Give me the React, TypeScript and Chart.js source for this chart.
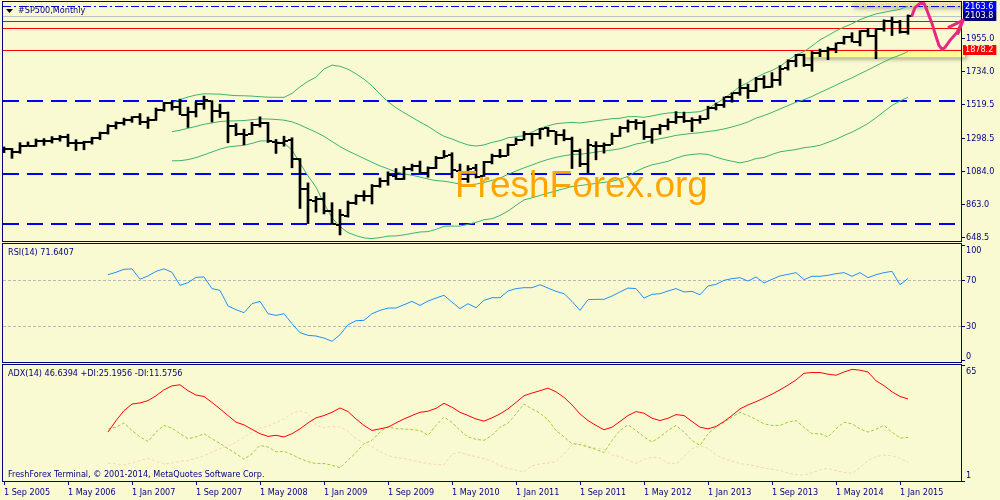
import React, { useEffect, useRef } from 'react';
import { Chart, registerables } from 'chart.js';

Chart.register(...registerables);

const FONT = '"DejaVu Sans Condensed", "Liberation Sans", Arial, sans-serif';
const WM_FONT = '"Liberation Sans", Arial, sans-serif';
const NAVY = '#000080';
const BG = '#FAFAD2';
const LABEL_FONT = `9px ${FONT}`;

// ---------- time axis ----------
const X_MIN = -0.125;
const X_MAX = 119.625;
const X_TICK_POS = [0, 8, 16, 24, 32, 40, 48, 56, 64, 72, 80, 88, 96, 104, 112];
const X_TICK_LABELS = ['1 Sep 2005', '1 May 2006', '1 Jan 2007', '1 Sep 2007', '1 May 2008', '1 Jan 2009', '1 Sep 2009', '1 May 2010', '1 Jan 2011', '1 Sep 2011', '1 May 2012', '1 Jan 2013', '1 Sep 2013', '1 May 2014', '1 Jan 2015'];

// ---------- monthly OHLC, Sep 2005 .. Feb 2015 ----------
const OPEN = [1220.3, 1228.8, 1207.0, 1249.5, 1248.3, 1280.1, 1280.7, 1294.9, 1310.6, 1270.1, 1270.2, 1276.7, 1303.8, 1335.9, 1377.9, 1400.6, 1418.3, 1437.9, 1406.8, 1420.8, 1482.4, 1530.6, 1504.7, 1455.2, 1473.9, 1527.3, 1545.8, 1479.6, 1468.0, 1378.6, 1330.5, 1326.4, 1386.0, 1399.6, 1276.7, 1269.4, 1287.8, 1164.2, 968.7, 888.6, 903.0, 823.1, 729.6, 793.6, 872.7, 923.3, 920.8, 990.2, 1019.5, 1054.9, 1036.2, 1098.9, 1116.6, 1073.9, 1105.4, 1171.2, 1188.6, 1087.3, 1031.1, 1107.5, 1049.7, 1143.5, 1185.7, 1186.6, 1257.6, 1289.1, 1328.6, 1329.5, 1365.2, 1345.2, 1320.6, 1292.6, 1219.1, 1131.2, 1251.0, 1246.9, 1258.9, 1312.5, 1365.9, 1408.5, 1397.9, 1309.9, 1362.3, 1379.3, 1406.5, 1440.9, 1412.2, 1416.3, 1426.2, 1498.1, 1514.7, 1569.2, 1597.6, 1631.7, 1609.8, 1689.4, 1636.0, 1682.4, 1758.7, 1806.6, 1845.9, 1782.7, 1857.7, 1874.0, 1884.4, 1923.9, 1962.3, 1929.8, 2004.1, 1971.4, 2018.2, 2065.8, 2058.9, 1996.7];
const HIGH = [1243.1, 1233.3, 1270.6, 1275.8, 1294.9, 1297.6, 1310.9, 1318.2, 1326.7, 1290.7, 1280.4, 1306.7, 1340.3, 1389.4, 1407.9, 1431.8, 1441.6, 1461.6, 1438.9, 1498.0, 1535.6, 1540.6, 1555.9, 1503.9, 1538.7, 1576.1, 1545.8, 1523.6, 1471.8, 1396.0, 1359.7, 1404.4, 1440.2, 1404.1, 1292.2, 1313.2, 1303.0, 1167.0, 1007.5, 918.9, 943.9, 877.9, 833.0, 888.7, 930.2, 956.2, 996.7, 1039.5, 1080.2, 1101.4, 1113.7, 1130.4, 1150.5, 1112.4, 1180.7, 1219.8, 1205.1, 1131.2, 1121.0, 1129.2, 1148.7, 1196.1, 1227.1, 1262.6, 1302.7, 1344.1, 1332.3, 1364.6, 1370.6, 1345.2, 1356.5, 1307.4, 1229.3, 1292.7, 1277.6, 1269.4, 1333.5, 1378.0, 1419.2, 1422.4, 1415.3, 1363.5, 1391.7, 1426.7, 1474.5, 1471.0, 1434.3, 1448.0, 1509.9, 1530.9, 1570.3, 1597.6, 1687.2, 1654.2, 1698.8, 1709.7, 1729.9, 1775.2, 1813.6, 1849.4, 1850.8, 1867.9, 1884.0, 1897.3, 1924.0, 1968.2, 1991.4, 2005.0, 2019.3, 2018.2, 2075.8, 2093.6, 2072.4, 2107.8];
const LOW = [1205.4, 1168.2, 1201.1, 1246.6, 1245.7, 1253.6, 1268.4, 1280.7, 1245.3, 1219.3, 1224.5, 1261.3, 1290.9, 1327.1, 1360.9, 1385.9, 1403.9, 1389.4, 1364.0, 1416.4, 1476.7, 1484.2, 1454.3, 1370.6, 1439.3, 1489.6, 1406.1, 1435.7, 1270.1, 1316.8, 1257.0, 1324.4, 1373.1, 1272.0, 1200.4, 1247.5, 1106.4, 839.8, 741.0, 815.7, 804.2, 735.1, 666.8, 783.3, 866.1, 888.9, 869.3, 978.5, 992.0, 1029.4, 1029.4, 1085.9, 1071.6, 1044.5, 1101.0, 1170.7, 1040.8, 1028.3, 1010.9, 1039.7, 1049.7, 1131.9, 1173.0, 1186.6, 1257.6, 1289.1, 1249.1, 1294.7, 1311.8, 1258.1, 1282.9, 1101.5, 1114.2, 1074.8, 1158.7, 1202.4, 1258.9, 1311.5, 1340.0, 1357.4, 1292.0, 1266.7, 1325.4, 1354.7, 1396.6, 1403.3, 1343.4, 1398.1, 1426.2, 1485.0, 1501.5, 1536.0, 1581.3, 1560.3, 1604.6, 1627.5, 1633.4, 1646.5, 1746.2, 1768.0, 1770.5, 1737.9, 1834.4, 1814.4, 1859.8, 1916.0, 1930.7, 1904.8, 1964.0, 1820.7, 2001.0, 1972.6, 1988.1, 1980.9];
const CLOSE = [1228.8, 1207.0, 1249.5, 1248.3, 1280.1, 1280.7, 1294.9, 1310.6, 1270.1, 1270.2, 1276.7, 1303.8, 1335.9, 1377.9, 1400.6, 1418.3, 1438.2, 1406.8, 1420.9, 1482.4, 1530.6, 1503.4, 1455.3, 1474.0, 1526.8, 1549.4, 1481.1, 1468.4, 1378.6, 1330.6, 1322.7, 1385.6, 1400.4, 1280.0, 1267.4, 1282.8, 1166.4, 968.8, 896.2, 903.3, 825.9, 735.1, 797.9, 872.8, 919.1, 919.3, 987.5, 1020.6, 1057.1, 1036.2, 1095.6, 1115.1, 1073.9, 1104.5, 1169.4, 1186.7, 1089.4, 1030.7, 1101.6, 1049.3, 1141.2, 1183.3, 1180.6, 1257.6, 1286.1, 1327.2, 1325.8, 1363.6, 1345.2, 1320.6, 1292.3, 1218.9, 1131.4, 1253.3, 1247.0, 1257.6, 1312.4, 1365.7, 1408.5, 1397.9, 1310.3, 1362.2, 1379.3, 1406.6, 1440.7, 1412.2, 1416.2, 1426.2, 1498.1, 1514.7, 1569.2, 1597.6, 1630.7, 1606.3, 1685.7, 1633.0, 1681.6, 1756.5, 1805.8, 1848.4, 1782.6, 1859.5, 1872.3, 1883.9, 1923.6, 1960.2, 1930.7, 2003.4, 1972.3, 2018.1, 2067.6, 2058.9, 1995.0, 2103.8];

// ---------- Bollinger bands (first value at bar 21) ----------
const BB_START = 21;
const BB_UPPER = [1532, 1553, 1570, 1583, 1591, 1590, 1589, 1583, 1579, 1578, 1576, 1572, 1569, 1568, 1568, 1593, 1637, 1673, 1700, 1753, 1779, 1771, 1752, 1722, 1687, 1643, 1589, 1539, 1500, 1467, 1437, 1406, 1378, 1343, 1313, 1295, 1274, 1256, 1249, 1256, 1273, 1284, 1303, 1310, 1316, 1340, 1365, 1381, 1395, 1400, 1404, 1400, 1407, 1414, 1421, 1428, 1431, 1441, 1442, 1437, 1446, 1457, 1465, 1469, 1466, 1470, 1474, 1494, 1526, 1561, 1599, 1639, 1665, 1697, 1724, 1744, 1771, 1809, 1846, 1868, 1904, 1944, 1973, 2003, 2028, 2050, 2077, 2097, 2114, 2125, 2135, 2144, 2165];
const BB_MID = [1342.5, 1352.8, 1365.0, 1377.6, 1391.3, 1400.4, 1408.9, 1412.7, 1413.6, 1416.0, 1421.3, 1426.9, 1425.8, 1422.7, 1418.4, 1407.7, 1387.3, 1362.7, 1339.8, 1312.7, 1278.8, 1245.5, 1216.8, 1192.4, 1167.2, 1142.7, 1118.7, 1099.4, 1079.7, 1066.9, 1057.1, 1045.8, 1033.0, 1022.5, 1018.3, 1010.2, 998.7, 995.8, 999.4, 1010.6, 1023.3, 1039.4, 1063.2, 1085.3, 1106.0, 1124.5, 1144.7, 1161.0, 1174.6, 1185.3, 1193.6, 1195.2, 1201.5, 1209.4, 1216.3, 1222.8, 1230.9, 1245.5, 1262.1, 1271.6, 1285.9, 1296.7, 1306.8, 1318.6, 1325.7, 1331.6, 1336.1, 1343.9, 1350.8, 1361.0, 1373.6, 1388.9, 1406.6, 1431.7, 1449.0, 1468.8, 1491.4, 1513.9, 1535.8, 1552.8, 1573.8, 1599.3, 1623.0, 1647.8, 1673.0, 1695.2, 1722.1, 1747.4, 1774.3, 1800.2, 1824.9, 1844.3, 1867.3];
const BB_LOWER = [1152, 1153, 1160, 1173, 1191, 1210, 1229, 1243, 1249, 1254, 1266, 1282, 1283, 1278, 1268, 1223, 1137, 1053, 980, 873, 779, 721, 682, 662, 647, 643, 649, 659, 660, 667, 677, 686, 688, 703, 723, 725, 724, 736, 749, 766, 773, 794, 823, 860, 896, 910, 925, 941, 955, 970, 984, 990, 997, 1004, 1011, 1018, 1031, 1051, 1082, 1107, 1126, 1137, 1149, 1169, 1186, 1194, 1198, 1194, 1176, 1161, 1149, 1139, 1149, 1167, 1174, 1194, 1211, 1219, 1226, 1238, 1244, 1254, 1273, 1293, 1318, 1340, 1367, 1397, 1434, 1475, 1515, 1544, 1569];

// ---------- price panel decorations ----------
const PRICE_MIN = 626.9;
const PRICE_MAX = 2192.3;
const PRICE_TICKS = [1955.0, 1734.0, 1519.5, 1298.5, 1084.0, 863.0, 648.5];
const RED_LINES = [2065, 2020, 1878.2];
const BLUE_DASH_LINES = [1547, 1064, 738];
const DASHDOT_LINES = [2163.6];
const BID_LINES = [2103.8];
const MARKER_VALUES = [2163.6, 2103.8, 1878.2];
const MARKER_COLORS = ['#0000FF', '#000070', '#FF0000'];
const RECT_X0 = [106, 99.875];
const RECT_X1 = [120.0, 120.125];
const RECT_TOP = [2187, 1878.2];
const RECT_BOTTOM = [2163.6, 1830];
const RECT_COLORS = ['#ECE394', '#FFFF96'];
const ARROW_X = [113.5, 113.875, 114.5, 115, 115.375, 116, 116.375, 116.875, 117.25, 117.625, 118.25, 119.125, 119.875];
const ARROW_Y = [2104, 2156, 2183, 2183, 2137, 2052, 1987, 1908, 1882, 1895, 1941, 1993, 2072];
const ARROW_HEAD_X = [118.125, 119.25];
const ARROW_HEAD_Y = [2028, 1987];

// ---------- RSI(14) ----------
const RSI_START = 13;
const RSI = [74.9, 77, 79.6, 80, 71, 73.8, 77.8, 80, 77, 65.6, 68, 72.6, 73, 62.8, 61.3, 47.7, 44.5, 41.9, 49.7, 51.7, 41, 39.5, 41, 32.3, 24.5, 22.2, 21.6, 19.8, 17, 22.7, 31.4, 34.9, 35.2, 41, 43.9, 45.9, 45.9, 48.8, 51.7, 48.2, 52, 54.6, 57, 51, 45.4, 49.7, 46.2, 52.6, 54.9, 54.9, 60.7, 62.8, 63.6, 63.6, 66.2, 63.3, 60.4, 58.4, 51.7, 43.9, 53.2, 53.5, 53.5, 56.4, 59.9, 63.3, 62.8, 54.6, 57.8, 58.4, 60.7, 62.8, 59.9, 60.4, 57.5, 65.1, 66.5, 70, 71.5, 72.3, 69.4, 72.9, 67.7, 70.9, 73.8, 75.2, 76.7, 70.6, 73.5, 73.5, 74.4, 75.8, 76.7, 73.5, 76.7, 72.3, 74.9, 76.7, 77.8, 66.2, 71.64];
const RSI_MIN = -1;
const RSI_MAX = 101.6;
const RSI_LEVELS = [70, 30];
const RSI_TICKS = [100, 70, 30, 0];

// ---------- ADX(14) ----------
const ADX_START = 13;
const ADX = [28.2, 34.6, 40.1, 43.8, 44.4, 45.7, 48.4, 51.7, 53.9, 54.5, 51.2, 48.8, 48.0, 44.7, 41.1, 37.4, 33.7, 32.2, 29.7, 27.3, 25.8, 26.4, 25.5, 27.3, 30.0, 33.3, 36.1, 37.4, 39.2, 41.6, 39.6, 35.5, 31.9, 29.1, 30.0, 30.9, 33.3, 35.5, 37.4, 39.2, 39.8, 41.4, 44.2, 42.0, 39.2, 37.4, 35.5, 34.3, 36.1, 38.3, 41.1, 44.7, 48.4, 49.9, 51.2, 52.6, 50.6, 47.5, 43.3, 38.3, 34.6, 31.9, 29.5, 30.9, 34.1, 37.4, 39.6, 38.7, 35.9, 34.6, 35.9, 37.9, 37.4, 34.1, 30.9, 30.0, 31.3, 34.1, 37.4, 41.1, 43.3, 45.1, 47.1, 49.3, 51.7, 54.3, 57.2, 60.9, 61.3, 61.3, 60.4, 59.8, 61.6, 63.1, 62.6, 61.6, 56.7, 54.0, 50.6, 48.0, 46.64];
const PLUS_DI = [30.0, 30.9, 33.3, 29.1, 25.5, 23.0, 28.2, 31.9, 30.4, 27.3, 24.5, 25.5, 27.3, 24.5, 21.8, 19.0, 16.2, 13.1, 16.2, 20.8, 19.9, 17.2, 17.5, 15.7, 13.5, 11.7, 10.7, 10.7, 9.8, 8.3, 12.6, 16.8, 21.8, 23.6, 28.2, 31.3, 30.0, 30.0, 29.5, 29.1, 26.4, 31.9, 36.5, 33.7, 29.1, 25.5, 24.2, 23.6, 26.4, 30.9, 33.1, 38.3, 43.8, 41.1, 38.7, 35.0, 29.1, 25.5, 21.8, 21.2, 19.9, 18.6, 16.8, 23.6, 29.1, 32.2, 29.1, 25.5, 22.7, 25.5, 29.1, 31.9, 28.2, 23.6, 20.8, 27.3, 30.9, 33.7, 36.5, 39.2, 37.4, 35.2, 32.8, 31.9, 31.9, 33.7, 34.6, 30.9, 27.3, 27.3, 25.5, 30.0, 33.7, 32.8, 30.0, 28.2, 29.7, 31.9, 28.2, 24.9, 25.2];
const MINUS_DI = [11, 10.5, 10, 11, 12.5, 13.5, 12, 10.5, 11, 12, 12.5, 13.5, 15, 17, 19, 20.5, 22.5, 25.5, 28, 30.5, 31.5, 33.5, 35.5, 38.5, 40, 38.5, 32, 30.5, 31.5, 31, 28.5, 24.5, 22, 20, 17.5, 15, 14, 13.5, 12.5, 11.5, 10.7, 10.2, 10, 16, 17, 15.5, 14.5, 13.5, 12, 9.5, 8, 7, 6.1, 9.5, 10.5, 11, 11.7, 16, 21, 22.5, 20.5, 19.2, 18.6, 15.5, 14.5, 12.5, 10.8, 13, 14.2, 13.8, 11, 10.5, 14.5, 19, 20.5, 19.2, 15.5, 13.5, 12, 10.7, 10.2, 9.2, 8.2, 7.5, 6.8, 5.4, 4.6, 4.3, 5.5, 7.2, 8, 6.7, 5.8, 5.3, 8.5, 12.5, 14.5, 15.5, 15, 13.5, 11.58];
const ADX_MIN = 1;
const ADX_MAX = 65.5;
const ADX_TICKS = [65, 1];

// ---------- texts ----------
const TITLE = '#SP500,Monthly';
const RSI_TITLE = 'RSI(14) 71.6407';
const ADX_TITLE = 'ADX(14) 46.6394 +DI:25.1956 -DI:11.5756';
const FOOTER = 'FreshForex Terminal, \u00A9 2001-2014, MetaQuotes Software Corp.';
const WATERMARK = 'FreshForex.org';

// ---------- helpers ----------
const series = (arr: number[], start: number) => arr.map((v, k) => ({ x: k + start, y: v }));

const rightAxis = (min: number, max: number, ticks: number[], showLabels: boolean) => ({
  type: 'linear' as const,
  position: 'right' as const,
  min,
  max,
  afterBuildTicks: (s: any) => {
    s.ticks = ticks.map((v) => ({ value: v }));
  },
  afterFit: (s: any) => {
    s.width = 39;
    s.paddingTop = 0;
    s.paddingBottom = 0;
  },
  grid: { drawOnChartArea: false, drawTicks: true, tickLength: 4, color: NAVY, lineWidth: 1 },
  border: { display: false },
  ticks: {
    display: showLabels,
    color: NAVY,
    padding: 1,
    font: { size: 9, family: FONT },
    callback: (v: any) => Number(v).toFixed(1),
  },
});

const hiddenX = () => ({ type: 'linear' as const, min: X_MIN, max: X_MAX, display: false, offset: false });

function drawBorder(ctx: CanvasRenderingContext2D, ca: any) {
  ctx.save();
  ctx.strokeStyle = NAVY;
  ctx.lineWidth = 1;
  ctx.setLineDash([]);
  ctx.strokeRect(ca.left - 0.5, ca.top - 0.5, ca.right - ca.left + 1, ca.bottom - ca.top + 1);
  ctx.restore();
}

function hLines(ctx: CanvasRenderingContext2D, ca: any, y: any, values: number[], color: string, width: number, dash: number[]) {
  ctx.save();
  ctx.strokeStyle = color;
  ctx.lineWidth = width;
  ctx.setLineDash(dash);
  values.forEach((v) => {
    const p = Math.round(y.getPixelForValue(v)) + (width % 2 ? 0.5 : 0);
    ctx.beginPath();
    ctx.moveTo(ca.left, p);
    ctx.lineTo(ca.right, p);
    ctx.stroke();
  });
  ctx.restore();
}

function clampedLabels(chart: any, values: number[], fmt: (v: number) => string) {
  const { ctx, chartArea: ca } = chart;
  const y = chart.scales.y;
  ctx.save();
  ctx.font = LABEL_FONT;
  ctx.fillStyle = NAVY;
  ctx.textBaseline = 'middle';
  ctx.textAlign = 'left';
  values.forEach((v) => {
    const p = Math.min(Math.max(y.getPixelForValue(v), ca.top + 6.5), ca.bottom - 5.5);
    ctx.fillText(fmt(v), ca.right + 5, p);
  });
  ctx.restore();
}

function panelText(ctx: CanvasRenderingContext2D, text: string, x: number, y: number) {
  ctx.save();
  ctx.font = LABEL_FONT;
  ctx.fillStyle = NAVY;
  ctx.textBaseline = 'middle';
  ctx.textAlign = 'left';
  ctx.fillText(text, x, y);
  ctx.restore();
}

// ---------- price panel plugin ----------
const pricePlugin = {
  id: 'pricePanel',
  beforeDatasetsDraw(chart: any) {
    const { ctx, chartArea: ca } = chart;
    const { x, y } = chart.scales;
    ctx.save();
    RECT_X0.forEach((x0, k) => {
      const px0 = x.getPixelForValue(x0);
      const px1 = x.getPixelForValue(RECT_X1[k]);
      const pyT = y.getPixelForValue(RECT_TOP[k]);
      const pyB = y.getPixelForValue(RECT_BOTTOM[k]);
      ctx.shadowColor = 'rgba(0,0,0,0.35)';
      ctx.shadowBlur = 4;
      ctx.shadowOffsetX = 2;
      ctx.shadowOffsetY = 2;
      ctx.fillStyle = RECT_COLORS[k];
      ctx.fillRect(px0, pyT, px1 - px0, pyB - pyT);
    });
    ctx.restore();
    hLines(ctx, ca, y, BID_LINES, '#C0C0C0', 1, []);
    hLines(ctx, ca, y, BLUE_DASH_LINES, '#0000FF', 2, [16, 8]);
    hLines(ctx, ca, y, DASHDOT_LINES, '#0000FF', 1, [8, 3, 2, 3]);
    hLines(ctx, ca, y, RED_LINES, '#FF0000', 1, []);
  },
  afterDatasetsDraw(chart: any) {
    const { ctx, chartArea: ca } = chart;
    const { x, y } = chart.scales;
    ctx.save();
    ctx.beginPath();
    ctx.rect(ca.left, ca.top, ca.right - ca.left, ca.bottom - ca.top);
    ctx.clip();
    ctx.fillStyle = '#000000';
    OPEN.forEach((o, i) => {
      const px = Math.round(x.getPixelForValue(i));
      const po = Math.round(y.getPixelForValue(o));
      const pc = Math.round(y.getPixelForValue(CLOSE[i]));
      ctx.fillRect(px - 4, po - 1, 3, 2);
      ctx.fillRect(px + 1, pc - 1, 3, 2);
    });
    ctx.font = `37px ${WM_FONT}`;
    ctx.fillStyle = '#FFA500';
    ctx.textBaseline = 'alphabetic';
    ctx.textAlign = 'left';
    ctx.fillText(WATERMARK, ca.left + 452, ca.top + 195);
    ctx.restore();
  },
  afterDraw(chart: any) {
    const { ctx, chartArea: ca } = chart;
    const { x, y } = chart.scales;
    drawBorder(ctx, ca);
    // title
    ctx.save();
    ctx.fillStyle = '#000000';
    ctx.beginPath();
    ctx.moveTo(ca.left + 3, ca.top + 7);
    ctx.lineTo(ca.left + 10, ca.top + 7);
    ctx.lineTo(ca.left + 6.5, ca.top + 11);
    ctx.closePath();
    ctx.fill();
    ctx.restore();
    panelText(ctx, TITLE, ca.left + 15, ca.top + 9);
    // value markers on the price axis
    ctx.save();
    ctx.font = LABEL_FONT;
    ctx.textBaseline = 'middle';
    ctx.textAlign = 'left';
    MARKER_VALUES.forEach((v, k) => {
      const p = y.getPixelForValue(v);
      const text = v.toFixed(1);
      const w = ctx.measureText(text).width + 5;
      ctx.fillStyle = MARKER_COLORS[k];
      ctx.fillRect(ca.right + 2, Math.round(p) - 5, w, 10);
      ctx.fillStyle = '#FFFFFF';
      ctx.fillText(text, ca.right + 4, p);
    });
    ctx.restore();
    // hand-drawn arrow
    ctx.save();
    ctx.strokeStyle = '#E8287F';
    ctx.lineWidth = 3;
    ctx.lineCap = 'round';
    ctx.lineJoin = 'round';
    ctx.beginPath();
    ARROW_X.forEach((ax, k) => {
      const px = x.getPixelForValue(ax);
      const py = Math.max(y.getPixelForValue(ARROW_Y[k]), 1);
      if (k === 0) ctx.moveTo(px, py);
      else ctx.lineTo(px, py);
    });
    ctx.stroke();
    const tx = x.getPixelForValue(ARROW_X[ARROW_X.length - 1]);
    const ty = y.getPixelForValue(ARROW_Y[ARROW_Y.length - 1]);
    ARROW_HEAD_X.forEach((hx, k) => {
      ctx.beginPath();
      ctx.moveTo(tx, ty);
      ctx.lineTo(x.getPixelForValue(hx), y.getPixelForValue(ARROW_HEAD_Y[k]));
      ctx.stroke();
    });
    ctx.restore();
  },
};

// ---------- RSI panel plugin ----------
const rsiPlugin = {
  id: 'rsiPanel',
  beforeDatasetsDraw(chart: any) {
    hLines(chart.ctx, chart.chartArea, chart.scales.y, RSI_LEVELS, '#B8B8B8', 1, [3, 2]);
  },
  afterDraw(chart: any) {
    const { ctx, chartArea: ca } = chart;
    drawBorder(ctx, ca);
    clampedLabels(chart, RSI_TICKS, (v) => String(v));
    panelText(ctx, RSI_TITLE, ca.left + 5, ca.top + 8.5);
  },
};

// ---------- ADX panel plugin ----------
const adxPlugin = {
  id: 'adxPanel',
  afterDraw(chart: any) {
    const { ctx, chartArea: ca } = chart;
    drawBorder(ctx, ca);
    clampedLabels(chart, ADX_TICKS, (v) => String(v));
    panelText(ctx, ADX_TITLE, ca.left + 5, ca.top + 9);
    panelText(ctx, FOOTER, ca.left + 5, ca.bottom - 6);
  },
};

const commonOptions = {
  animation: false as const,
  responsive: false,
  devicePixelRatio: 1,
  events: [] as any[],
  plugins: { legend: { display: false }, tooltip: { enabled: false } },
};

function priceConfig(): any {
  return {
    type: 'bar',
    data: {
      datasets: [
        {
          type: 'bar',
          data: HIGH.map((h, i) => ({ x: i, y: [LOW[i], h] })),
          backgroundColor: '#000000',
          borderWidth: 0,
          barThickness: 2,
          order: 0,
        },
        { type: 'line', data: series(BB_UPPER, BB_START), borderColor: '#3CB371', borderWidth: 1, pointRadius: 0, order: 1 },
        { type: 'line', data: series(BB_MID, BB_START), borderColor: '#3CB371', borderWidth: 1, pointRadius: 0, order: 1 },
        { type: 'line', data: series(BB_LOWER, BB_START), borderColor: '#3CB371', borderWidth: 1, pointRadius: 0, order: 1 },
      ],
    },
    options: {
      ...commonOptions,
      layout: { padding: { left: 3, top: 2, bottom: 259, right: 0 } },
      scales: {
        x: { ...hiddenX(), grid: { offset: false } },
        y: rightAxis(PRICE_MIN, PRICE_MAX, PRICE_TICKS, true),
      },
    },
    plugins: [pricePlugin],
  };
}

function rsiConfig(): any {
  return {
    type: 'line',
    data: {
      datasets: [
        { data: series(RSI, RSI_START), borderColor: '#1E90FF', borderWidth: 1, pointRadius: 0 },
      ],
    },
    options: {
      ...commonOptions,
      layout: { padding: { left: 3, top: 244, bottom: 138, right: 0 } },
      scales: {
        x: hiddenX(),
        y: rightAxis(RSI_MIN, RSI_MAX, RSI_TICKS, false),
      },
    },
    plugins: [rsiPlugin],
  };
}

function adxConfig(): any {
  return {
    type: 'line',
    data: {
      datasets: [
        { data: series(ADX, ADX_START), borderColor: '#FF0000', borderWidth: 1, pointRadius: 0, order: 0 },
        { data: series(PLUS_DI, ADX_START), borderColor: '#9ACD32', borderWidth: 1, borderDash: [3, 2], pointRadius: 0, order: 1 },
        { data: series(MINUS_DI, ADX_START), borderColor: '#F8D4B8', borderWidth: 1, borderDash: [3, 2], pointRadius: 0, order: 2 },
      ],
    },
    options: {
      ...commonOptions,
      layout: { padding: { left: 3, top: 365, bottom: 0, right: 0 } },
      scales: {
        x: {
          type: 'linear',
          position: 'bottom',
          min: X_MIN,
          max: X_MAX,
          offset: false,
          afterBuildTicks: (s: any) => {
            s.ticks = X_TICK_POS.map((v) => ({ value: v }));
          },
          afterFit: (s: any) => {
            s.height = 19;
            s.paddingLeft = 0;
            s.paddingRight = 0;
          },
          grid: { drawOnChartArea: false, drawTicks: true, tickLength: 4, color: NAVY, offset: false },
          border: { display: false },
          ticks: {
            color: NAVY,
            font: { size: 9, family: FONT },
            align: 'start',
            padding: 2,
            maxRotation: 0,
            minRotation: 0,
            autoSkip: false,
            callback: (_v: any, index: number) => X_TICK_LABELS[index],
          },
        },
        y: rightAxis(ADX_MIN, ADX_MAX, ADX_TICKS, false),
      },
    },
    plugins: [adxPlugin],
  };
}

export default function App() {
  const priceRef = useRef<HTMLCanvasElement>(null);
  const rsiRef = useRef<HTMLCanvasElement>(null);
  const adxRef = useRef<HTMLCanvasElement>(null);

  useEffect(() => {
    const charts = [
      new Chart(priceRef.current as HTMLCanvasElement, priceConfig()),
      new Chart(rsiRef.current as HTMLCanvasElement, rsiConfig()),
      new Chart(adxRef.current as HTMLCanvasElement, adxConfig()),
    ];
    return () => charts.forEach((c) => c.destroy());
  }, []);

  const layer: React.CSSProperties = { position: 'absolute', left: 0, top: 0, width: 1000, height: 500 };
  return (
    <div style={{ position: 'fixed', left: 0, top: 0, width: 1000, height: 500, background: BG, overflow: 'hidden' }}>
      <canvas ref={priceRef} width={1000} height={500} style={layer} />
      <canvas ref={rsiRef} width={1000} height={500} style={layer} />
      <canvas ref={adxRef} width={1000} height={500} style={layer} />
    </div>
  );
}
